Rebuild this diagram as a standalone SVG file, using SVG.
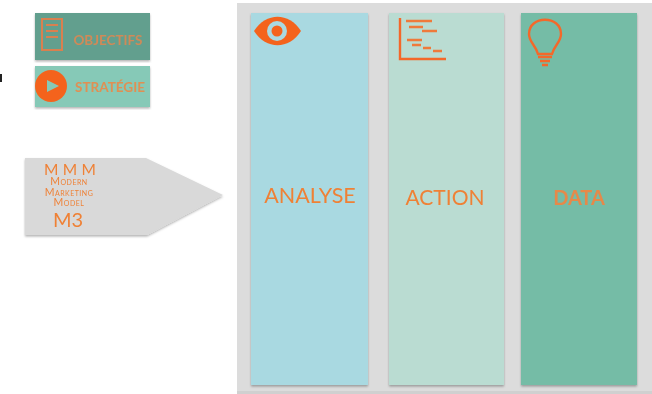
<svg xmlns="http://www.w3.org/2000/svg" width="652" height="394" viewBox="0 0 652 394">
<defs>
<filter id="sh" x="-10%" y="-10%" width="120%" height="120%"><feDropShadow dx="0" dy="1.5" stdDeviation="1.2" flood-color="#000" flood-opacity="0.3"/></filter>
<filter id="bl" x="-5%" y="-5%" width="110%" height="110%"><feGaussianBlur stdDeviation="0.6"/></filter>
</defs>
<style>
text{font-family:"Lato","Open Sans","Liberation Sans",sans-serif;fill:#ef8136;text-anchor:middle}
.ic{fill:none;stroke:#f4682a}
.sc{font-variant:small-caps;font-size:10.5px;letter-spacing:0.5px}
</style>
<rect width="652" height="394" fill="#ffffff"/>
<rect x="0" y="74" width="2" height="8" fill="#222"/>
<g id="panel"><rect x="237" y="3" width="415" height="391" fill="#dcdcdc"/><rect x="237" y="391" width="415" height="3" fill="#d0d0d0"/></g>
<g id="objectifs" filter="url(#bl)">
<rect x="35" y="13" width="115" height="47" fill="#629f8e" filter="url(#sh)"/>
<path fill="none" stroke="#d9804f" stroke-width="2" d="M42 19H62V50H42ZM46 25H58M46 31H58M46 37H58M41 50H63"/>
<text x="108" y="45" font-size="13.5" font-weight="700" style="fill:#cf8a58">OBJECTIFS</text>
</g>
<g id="strategie" filter="url(#bl)">
<rect x="35" y="66" width="115" height="41" fill="#86c9b7" filter="url(#sh)"/>
<circle cx="51" cy="86" r="16" fill="#f4641e"/>
<path d="M47 80L59 86L47 92Z" fill="#86c9b7"/>
<text x="110" y="92" font-size="13.5" font-weight="700" style="fill:#e08f52">STRATÉGIE</text>
</g>
<g id="m3" filter="url(#bl)">
<path d="M25 158H146L223 195L147 235H25Z" fill="#d9d9d9" filter="url(#sh)"/>
<text x="70" y="175" font-size="15.5" letter-spacing="0.2">M M M</text>
<text class="sc" x="69" y="185">Modern</text>
<text class="sc" x="69" y="195.5">Marketing</text>
<text class="sc" x="69" y="206">Model</text>
<text x="68" y="227" font-size="20">M3</text>
</g>
<g id="analyse" filter="url(#bl)">
<rect x="251" y="13" width="117" height="372" fill="#a9d9e1" filter="url(#sh)"/>
<path d="M254 31C266 12 289 12 301 31C289 50 266 50 254 31Z" fill="#f4641e"/>
<circle cx="277" cy="31" r="10" fill="#a9d9e1"/>
<circle cx="277" cy="31" r="5.5" fill="#f4641e"/>
<text x="310" y="203" font-size="21.5">ANALYSE</text>
</g>
<g id="action" filter="url(#bl)">
<rect x="389" y="13" width="115" height="372" fill="#badcd2" filter="url(#sh)"/>
<path class="ic" stroke-width="2.4" d="M400 18V59H446"/>
<path stroke="#ef7a3a" fill="none" stroke-width="2.4" d="M406 21H432M409 27H423M422 31H437M407 40H422M412 45H421M423 48H431M433 51H442"/>
<text x="445" y="205" font-size="21">ACTION</text>
</g>
<g id="data" filter="url(#bl)">
<rect x="521" y="13" width="116" height="372" fill="#74bca6" filter="url(#sh)"/>
<path class="ic" stroke-width="2.4" d="M538 54C535 44 529 42 529 34C529 15 561 15 561 34C561 42 555 44 552 54Z"/>
<path stroke="#f4682a" fill="none" stroke-width="2.4" d="M538 57H552M540 61H550M542 65H548"/>
<text x="579" y="205" font-size="20" font-weight="700" style="fill:#e6894a">DATA</text>
</g>
<g id="connectors"/>
</svg>
